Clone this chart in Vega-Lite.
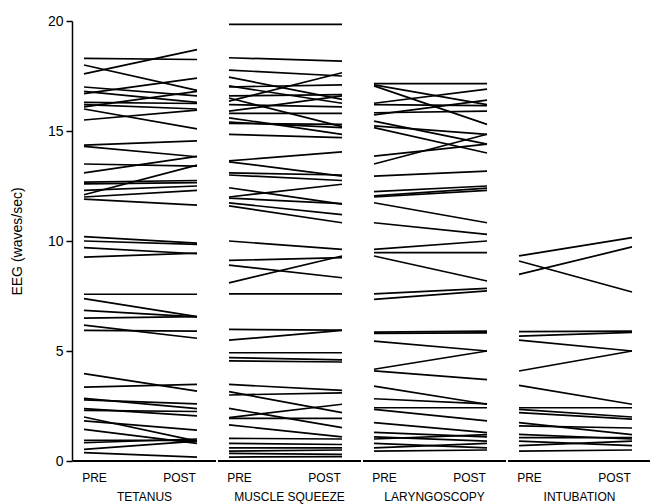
{
  "$schema": "https://vega.github.io/schema/vega-lite/v6.json",
  "padding": {"left": 10, "top": 14, "right": 2, "bottom": 2},
  "background": "white",
  "data": {"values": [
    {"g":"TETANUS","id":1,"PRE":18.3,"POST":18.25},
    {"g":"TETANUS","id":2,"PRE":18.0,"POST":16.85},
    {"g":"TETANUS","id":3,"PRE":17.6,"POST":18.7},
    {"g":"TETANUS","id":4,"PRE":17.0,"POST":16.6},
    {"g":"TETANUS","id":5,"PRE":16.8,"POST":16.3},
    {"g":"TETANUS","id":6,"PRE":16.7,"POST":17.4},
    {"g":"TETANUS","id":7,"PRE":16.3,"POST":16.25},
    {"g":"TETANUS","id":8,"PRE":16.1,"POST":16.8},
    {"g":"TETANUS","id":9,"PRE":16.0,"POST":15.1},
    {"g":"TETANUS","id":10,"PRE":15.5,"POST":15.95},
    {"g":"TETANUS","id":11,"PRE":16.2,"POST":16.0},
    {"g":"TETANUS","id":12,"PRE":14.36,"POST":14.55},
    {"g":"TETANUS","id":13,"PRE":14.3,"POST":13.83},
    {"g":"TETANUS","id":14,"PRE":13.5,"POST":13.4},
    {"g":"TETANUS","id":15,"PRE":13.1,"POST":13.85},
    {"g":"TETANUS","id":16,"PRE":12.68,"POST":12.75},
    {"g":"TETANUS","id":17,"PRE":12.6,"POST":12.65},
    {"g":"TETANUS","id":18,"PRE":12.3,"POST":12.5},
    {"g":"TETANUS","id":19,"PRE":12.1,"POST":13.45},
    {"g":"TETANUS","id":20,"PRE":12.0,"POST":12.3},
    {"g":"TETANUS","id":21,"PRE":11.9,"POST":11.63},
    {"g":"TETANUS","id":22,"PRE":10.2,"POST":9.9},
    {"g":"TETANUS","id":23,"PRE":10.0,"POST":9.85},
    {"g":"TETANUS","id":24,"PRE":9.7,"POST":9.42},
    {"g":"TETANUS","id":25,"PRE":9.27,"POST":9.45},
    {"g":"TETANUS","id":26,"PRE":7.58,"POST":7.58},
    {"g":"TETANUS","id":27,"PRE":7.38,"POST":6.56},
    {"g":"TETANUS","id":28,"PRE":6.85,"POST":6.55},
    {"g":"TETANUS","id":29,"PRE":6.49,"POST":6.56},
    {"g":"TETANUS","id":30,"PRE":6.18,"POST":5.58},
    {"g":"TETANUS","id":31,"PRE":5.94,"POST":5.9},
    {"g":"TETANUS","id":32,"PRE":3.97,"POST":3.18},
    {"g":"TETANUS","id":33,"PRE":3.36,"POST":3.48},
    {"g":"TETANUS","id":34,"PRE":2.85,"POST":2.38},
    {"g":"TETANUS","id":35,"PRE":2.78,"POST":2.6},
    {"g":"TETANUS","id":36,"PRE":2.38,"POST":2.05},
    {"g":"TETANUS","id":37,"PRE":2.3,"POST":2.25},
    {"g":"TETANUS","id":38,"PRE":2.0,"POST":0.9},
    {"g":"TETANUS","id":39,"PRE":1.82,"POST":1.4},
    {"g":"TETANUS","id":40,"PRE":1.44,"POST":0.8},
    {"g":"TETANUS","id":41,"PRE":0.94,"POST":0.94},
    {"g":"TETANUS","id":42,"PRE":0.83,"POST":1.0},
    {"g":"TETANUS","id":43,"PRE":0.53,"POST":0.9},
    {"g":"TETANUS","id":44,"PRE":0.38,"POST":0.18},
    {"g":"MUSCLE SQUEEZE","id":1,"PRE":19.85,"POST":19.85},
    {"g":"MUSCLE SQUEEZE","id":2,"PRE":18.33,"POST":18.18},
    {"g":"MUSCLE SQUEEZE","id":3,"PRE":17.77,"POST":17.5},
    {"g":"MUSCLE SQUEEZE","id":4,"PRE":17.45,"POST":16.44},
    {"g":"MUSCLE SQUEEZE","id":5,"PRE":17.05,"POST":16.26},
    {"g":"MUSCLE SQUEEZE","id":6,"PRE":16.36,"POST":17.65},
    {"g":"MUSCLE SQUEEZE","id":7,"PRE":17.0,"POST":17.1},
    {"g":"MUSCLE SQUEEZE","id":8,"PRE":16.6,"POST":16.65},
    {"g":"MUSCLE SQUEEZE","id":9,"PRE":16.5,"POST":15.2},
    {"g":"MUSCLE SQUEEZE","id":10,"PRE":15.9,"POST":16.6},
    {"g":"MUSCLE SQUEEZE","id":11,"PRE":16.2,"POST":16.1},
    {"g":"MUSCLE SQUEEZE","id":12,"PRE":15.8,"POST":15.8},
    {"g":"MUSCLE SQUEEZE","id":13,"PRE":15.6,"POST":14.85},
    {"g":"MUSCLE SQUEEZE","id":14,"PRE":15.35,"POST":15.3},
    {"g":"MUSCLE SQUEEZE","id":15,"PRE":14.85,"POST":14.7},
    {"g":"MUSCLE SQUEEZE","id":16,"PRE":15.4,"POST":15.15},
    {"g":"MUSCLE SQUEEZE","id":17,"PRE":13.64,"POST":14.05},
    {"g":"MUSCLE SQUEEZE","id":18,"PRE":13.6,"POST":12.95},
    {"g":"MUSCLE SQUEEZE","id":19,"PRE":13.1,"POST":13.0},
    {"g":"MUSCLE SQUEEZE","id":20,"PRE":13.0,"POST":12.75},
    {"g":"MUSCLE SQUEEZE","id":21,"PRE":12.42,"POST":11.68},
    {"g":"MUSCLE SQUEEZE","id":22,"PRE":12.0,"POST":12.58},
    {"g":"MUSCLE SQUEEZE","id":23,"PRE":11.95,"POST":11.7},
    {"g":"MUSCLE SQUEEZE","id":24,"PRE":11.73,"POST":11.2},
    {"g":"MUSCLE SQUEEZE","id":25,"PRE":11.6,"POST":10.83},
    {"g":"MUSCLE SQUEEZE","id":26,"PRE":10.0,"POST":9.62},
    {"g":"MUSCLE SQUEEZE","id":27,"PRE":9.12,"POST":9.24},
    {"g":"MUSCLE SQUEEZE","id":28,"PRE":8.9,"POST":8.33},
    {"g":"MUSCLE SQUEEZE","id":29,"PRE":8.1,"POST":9.32},
    {"g":"MUSCLE SQUEEZE","id":30,"PRE":7.6,"POST":7.6},
    {"g":"MUSCLE SQUEEZE","id":31,"PRE":5.98,"POST":5.95},
    {"g":"MUSCLE SQUEEZE","id":32,"PRE":5.49,"POST":5.94},
    {"g":"MUSCLE SQUEEZE","id":33,"PRE":4.92,"POST":4.92},
    {"g":"MUSCLE SQUEEZE","id":34,"PRE":4.7,"POST":4.6},
    {"g":"MUSCLE SQUEEZE","id":35,"PRE":4.55,"POST":4.5},
    {"g":"MUSCLE SQUEEZE","id":36,"PRE":3.48,"POST":3.21},
    {"g":"MUSCLE SQUEEZE","id":37,"PRE":3.15,"POST":2.2},
    {"g":"MUSCLE SQUEEZE","id":38,"PRE":2.39,"POST":1.52},
    {"g":"MUSCLE SQUEEZE","id":39,"PRE":1.97,"POST":2.58},
    {"g":"MUSCLE SQUEEZE","id":40,"PRE":1.94,"POST":1.94},
    {"g":"MUSCLE SQUEEZE","id":41,"PRE":1.64,"POST":1.1},
    {"g":"MUSCLE SQUEEZE","id":42,"PRE":1.03,"POST":1.0},
    {"g":"MUSCLE SQUEEZE","id":43,"PRE":0.6,"POST":0.6},
    {"g":"MUSCLE SQUEEZE","id":44,"PRE":0.45,"POST":0.5},
    {"g":"MUSCLE SQUEEZE","id":45,"PRE":0.35,"POST":0.3},
    {"g":"MUSCLE SQUEEZE","id":46,"PRE":0.18,"POST":0.2},
    {"g":"MUSCLE SQUEEZE","id":47,"PRE":0.8,"POST":0.75},
    {"g":"MUSCLE SQUEEZE","id":48,"PRE":3.0,"POST":3.1},
    {"g":"LARYNGOSCOPY","id":1,"PRE":17.15,"POST":17.15},
    {"g":"LARYNGOSCOPY","id":2,"PRE":17.1,"POST":16.2},
    {"g":"LARYNGOSCOPY","id":3,"PRE":17.05,"POST":15.3},
    {"g":"LARYNGOSCOPY","id":4,"PRE":16.26,"POST":16.9},
    {"g":"LARYNGOSCOPY","id":5,"PRE":16.2,"POST":16.15},
    {"g":"LARYNGOSCOPY","id":6,"PRE":15.83,"POST":15.9},
    {"g":"LARYNGOSCOPY","id":7,"PRE":15.73,"POST":16.4},
    {"g":"LARYNGOSCOPY","id":8,"PRE":15.45,"POST":14.4},
    {"g":"LARYNGOSCOPY","id":9,"PRE":15.23,"POST":14.85},
    {"g":"LARYNGOSCOPY","id":10,"PRE":15.15,"POST":14.0},
    {"g":"LARYNGOSCOPY","id":11,"PRE":13.86,"POST":14.4},
    {"g":"LARYNGOSCOPY","id":12,"PRE":13.5,"POST":14.85},
    {"g":"LARYNGOSCOPY","id":13,"PRE":12.95,"POST":13.18},
    {"g":"LARYNGOSCOPY","id":14,"PRE":12.24,"POST":12.5},
    {"g":"LARYNGOSCOPY","id":15,"PRE":12.05,"POST":12.4},
    {"g":"LARYNGOSCOPY","id":16,"PRE":12.0,"POST":12.3},
    {"g":"LARYNGOSCOPY","id":17,"PRE":11.74,"POST":10.83},
    {"g":"LARYNGOSCOPY","id":18,"PRE":10.83,"POST":10.3},
    {"g":"LARYNGOSCOPY","id":19,"PRE":9.62,"POST":10.0},
    {"g":"LARYNGOSCOPY","id":20,"PRE":9.47,"POST":9.47},
    {"g":"LARYNGOSCOPY","id":21,"PRE":9.32,"POST":8.18},
    {"g":"LARYNGOSCOPY","id":22,"PRE":7.6,"POST":7.85},
    {"g":"LARYNGOSCOPY","id":23,"PRE":7.35,"POST":7.73},
    {"g":"LARYNGOSCOPY","id":24,"PRE":5.86,"POST":5.9},
    {"g":"LARYNGOSCOPY","id":25,"PRE":5.8,"POST":5.82},
    {"g":"LARYNGOSCOPY","id":26,"PRE":5.45,"POST":5.0},
    {"g":"LARYNGOSCOPY","id":27,"PRE":4.17,"POST":5.0},
    {"g":"LARYNGOSCOPY","id":28,"PRE":4.1,"POST":3.7},
    {"g":"LARYNGOSCOPY","id":29,"PRE":3.4,"POST":2.58},
    {"g":"LARYNGOSCOPY","id":30,"PRE":2.83,"POST":2.6},
    {"g":"LARYNGOSCOPY","id":31,"PRE":2.42,"POST":2.42},
    {"g":"LARYNGOSCOPY","id":32,"PRE":2.35,"POST":1.82},
    {"g":"LARYNGOSCOPY","id":33,"PRE":1.74,"POST":1.29},
    {"g":"LARYNGOSCOPY","id":34,"PRE":1.3,"POST":1.1},
    {"g":"LARYNGOSCOPY","id":35,"PRE":1.1,"POST":0.9},
    {"g":"LARYNGOSCOPY","id":36,"PRE":1.0,"POST":1.2},
    {"g":"LARYNGOSCOPY","id":37,"PRE":0.8,"POST":0.6},
    {"g":"LARYNGOSCOPY","id":38,"PRE":0.6,"POST":0.8},
    {"g":"LARYNGOSCOPY","id":39,"PRE":0.45,"POST":0.5},
    {"g":"INTUBATION","id":1,"PRE":9.32,"POST":10.15},
    {"g":"INTUBATION","id":2,"PRE":9.09,"POST":7.68},
    {"g":"INTUBATION","id":3,"PRE":8.48,"POST":9.73},
    {"g":"INTUBATION","id":4,"PRE":5.88,"POST":5.9},
    {"g":"INTUBATION","id":5,"PRE":5.68,"POST":5.85},
    {"g":"INTUBATION","id":6,"PRE":5.49,"POST":5.0},
    {"g":"INTUBATION","id":7,"PRE":4.09,"POST":5.0},
    {"g":"INTUBATION","id":8,"PRE":3.44,"POST":2.58},
    {"g":"INTUBATION","id":9,"PRE":2.42,"POST":2.42},
    {"g":"INTUBATION","id":10,"PRE":2.35,"POST":2.0},
    {"g":"INTUBATION","id":11,"PRE":2.2,"POST":1.9},
    {"g":"INTUBATION","id":12,"PRE":1.74,"POST":1.2},
    {"g":"INTUBATION","id":13,"PRE":1.6,"POST":1.5},
    {"g":"INTUBATION","id":14,"PRE":1.21,"POST":1.0},
    {"g":"INTUBATION","id":15,"PRE":1.06,"POST":1.06},
    {"g":"INTUBATION","id":16,"PRE":0.9,"POST":0.7},
    {"g":"INTUBATION","id":17,"PRE":0.7,"POST":0.9},
    {"g":"INTUBATION","id":18,"PRE":0.45,"POST":0.5}
  ]},
  "transform": [{"fold": ["PRE", "POST"], "as": ["phase", "v"]}],
  "facet": {
    "column": {
      "field": "g",
      "type": "nominal",
      "sort": ["TETANUS", "MUSCLE SQUEEZE", "LARYNGOSCOPY", "INTUBATION"],
      "title": null,
      "header": {"labelOrient": "bottom", "labelFont": "Liberation Sans", "labelFontSize": 12, "labelColor": "black", "labelPadding": 9}
    }
  },
  "spacing": 0,
  "spec": {
    "width": 143,
    "height": 440,
    "layer": [
      {
        "mark": {"type": "line", "color": "black", "strokeWidth": 1.7},
        "encoding": {
          "x": {"field": "phase", "type": "ordinal", "sort": ["PRE", "POST"],
                "scale": {"type": "point", "range": [11, 124], "padding": 0},
                "axis": {"title": null, "labelAngle": 0, "ticks": false, "domain": false, "labelPadding": 10,
                         "labelOffset": {"condition": {"test": "datum.value == 'POST'", "value": -18}, "value": 10}}},
          "y": {"field": "v", "type": "quantitative",
                "scale": {"domain": [0, 20], "nice": false, "zero": false},
                "axis": {"title": "EEG  (waves/sec)", "values": [0, 5, 10, 15, 20], "grid": false, "tickSize": 6, "labelPadding": 3, "labelFontSize": 14, "titlePadding": 23}},
          "detail": {"field": "id", "type": "nominal"}
        }
      },
      {
        "mark": {"type": "rule", "color": "black", "strokeWidth": 1.5},
        "encoding": {"y": {"datum": 0}}
      }
    ]
  },
  "config": {
    "view": {"stroke": null},
    "axis": {"labelFont": "Liberation Sans", "labelFontSize": 12, "labelColor": "black", "titleFont": "Liberation Sans", "titleFontSize": 14, "titleFontWeight": "normal", "titleColor": "black", "tickColor": "black", "domainColor": "black", "domainWidth": 1.5, "tickWidth": 1.5}
  }
}
